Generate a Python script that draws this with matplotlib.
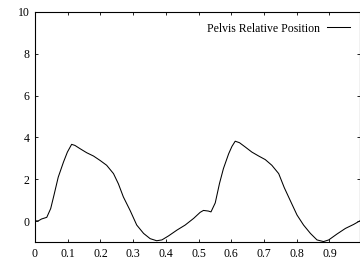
import matplotlib
matplotlib.use('Agg')
import matplotlib.pyplot as plt

# values
t = [0.0, 0.010, 0.020, 0.036, 0.048, 0.058, 0.071, 0.087, 0.099, 0.112,
     0.122, 0.138, 0.158, 0.179, 0.199, 0.219, 0.240, 0.255, 0.270, 0.291,
     0.311, 0.332, 0.352, 0.372, 0.388, 0.408, 0.434, 0.459, 0.485, 0.505,
     0.515, 0.530, 0.538, 0.551, 0.564, 0.576, 0.592, 0.602, 0.612, 0.625,
     0.643, 0.663, 0.684, 0.704, 0.724, 0.745, 0.762, 0.781, 0.801, 0.821,
     0.842, 0.862, 0.882, 0.898, 0.923, 0.949, 0.974, 0.993]
pos = [0.01, 0.01, 0.1, 0.18, 0.6, 1.24, 2.1, 2.82, 3.3, 3.67,
       3.62, 3.46, 3.27, 3.11, 2.9, 2.67, 2.27, 1.78, 1.16, 0.5,
       -0.19, -0.59, -0.84, -0.94, -0.9, -0.71, -0.43, -0.19, 0.13, 0.42,
       0.51, 0.48, 0.44, 0.87, 1.8, 2.51, 3.22, 3.57, 3.82, 3.75,
       3.54, 3.3, 3.11, 2.94, 2.67, 2.27, 1.6, 0.96, 0.29, -0.19,
       -0.59, -0.9, -0.98, -0.9, -0.62, -0.35, -0.16, 0.01]

xticks = [0, 0.1, 0.2, 0.3, 0.4, 0.5, 0.6, 0.7, 0.8, 0.9]
yticks = [0, 2, 4, 6, 8, 10]

plt.rcParams['font.family'] = ['Liberation Serif', 'DejaVu Serif']
fig = plt.figure(figsize=(3.6, 2.61), dpi=100)
ax = fig.add_axes([35 / 360, 19 / 261, 324.5 / 360, 230 / 261])

ax.plot(t, pos, color='black', lw=0.75, label='Pelvis Relative Position')
ax.set_xlim(0, 0.992)
ax.set_ylim(-1, 10)
ax.set_xticks(xticks)
ax.set_xticklabels(['0' if v == 0 else str(v) for v in xticks])
ax.set_yticks(yticks)
ax.tick_params(direction='in', length=2.5, width=0.6, labelsize=8.5,
               top=True, right=True, pad=4)
for s in ax.spines.values():
    s.set_linewidth(0.8)

ax.legend(loc='upper right', frameon=False, markerfirst=False, fontsize=8.5,
          handlelength=1.9, handletextpad=0.6, borderaxespad=0.3,
          bbox_to_anchor=(0.995, 0.99))

fig.savefig('out.png', dpi=100)
